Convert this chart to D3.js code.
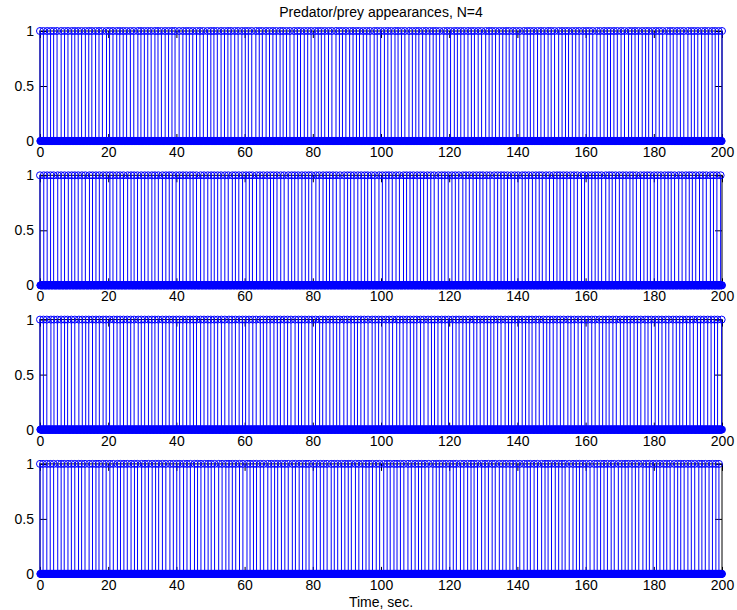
<!DOCTYPE html>
<html>
<head>
<meta charset="utf-8">
<script src="https://cdn.jsdelivr.net/npm/d3@7"></script>
<style>
  body { margin: 0; background: #fff; }
  text { font-family: "Liberation Sans", Arial, sans-serif; fill: #000; }
</style>
</head>
<body>
<svg id="chart"></svg>
<script>
const svgWidth = 737;
const svgHeight = 610;

const chartTitle = "Predator/prey appearances, N=4";
const xLabel = "Time, sec.";
const xTicks = [0, 20, 40, 60, 80, 100, 120, 140, 160, 180, 200];
const yTicks = [0, 0.5, 1];
const yTickLabels = ["0", "0.5", "1"];
const timeEnd = 200;
const sampleStep = 0.1; // time base of the 0/1 signal, seconds

// gaps between successive appearances, in tenths of a second
const gaps1 = [10,11,10,9,10,12,10,10,11,9,10,10,11,10,9,11,10,10,12,9,
  10,11,9,10,10,11,10,12,9,10,10,10,11,9,10,11,10,10,9,12,
  11,10,9,10,11,10,10,12,10,9,10,11,10,10,9,11,10,11,10,9,
  10,12,10,9,11,10,10,10,11,9,10,10,12,10,9,11,10,10,11,10,
  9,10,11,10,12,10,9,10,11,10,10,9,11,10,10,12,9,10,11,10,
  10,11,9,10,10,12,10,10,9,11,10,11,10,9,10,12,10,10,11,9,
  10,10,11,10,9,11,10,12,10,9,10,11,10,10,9,11,10,10,12,10,
  9,10,11,10,10,11,9,10,12,10,10,9,11,10,10,11,10,9,10,12,
  10,11,10,9,10,10,11,10,12,9,10,10,11,10,9,11,10,10,10,12,
  10,9,11,10,10,12,10,9,10,11,10,10,11,9,10,10,12,10,11,10];
const gaps2 = [11,10,10,9,12,10,10,11,10,9,10,11,10,12,9,10,10,11,10,10,
  9,11,10,10,12,10,9,10,11,10,10,11,9,10,12,10,10,9,11,10,
  10,10,11,9,10,12,10,11,10,9,10,10,11,10,12,9,10,11,10,10,
  9,12,10,10,11,10,9,10,11,10,12,10,9,10,11,10,10,9,12,10,
  11,10,9,10,10,11,12,10,9,10,11,10,10,9,11,10,12,10,10,9,
  10,11,10,12,9,10,10,11,10,9,11,10,10,12,10,9,10,11,10,10,
  12,9,10,11,10,10,9,11,10,12,10,10,9,10,11,10,10,12,9,10,
  11,10,10,9,11,10,12,10,9,10,10,11,10,10,12,9,11,10,10,9,
  10,12,10,9,10,11,10,10,11,9,10,12,10,10,9,11,10,10,11,10,
  9,10,12,10,11,10,9,10,11,10,10,12,9,10,11,10,10,9,11,10];
const gaps3 = [10,10,12,9,10,11,10,9,11,10,12,10,10,9,11,10,10,11,9,10,
  12,10,9,10,11,10,10,12,9,10,11,10,9,10,12,10,10,11,10,9,
  10,11,10,10,9,12,10,11,9,10,10,11,10,12,9,10,11,10,9,10,
  11,10,12,9,10,10,11,10,9,11,10,10,12,10,9,10,11,10,10,12,
  9,10,11,10,10,9,12,10,11,10,9,10,10,11,12,9,10,10,11,10,
  10,12,9,10,11,10,10,9,11,10,12,10,9,10,11,10,10,12,10,9,
  11,10,10,12,9,10,11,10,10,9,11,10,12,10,9,10,10,11,10,10,
  9,11,10,12,10,9,10,11,10,10,12,9,10,11,10,10,9,11,10,12,
  10,10,9,11,10,12,10,10,9,11,10,10,12,9,10,11,10,10,11,9,
  12,10,10,9,11,10,10,12,9,10,11,10,10,9,12,10,11,10,9,10];
const gaps4 = [9,11,10,10,12,10,9,11,10,10,11,9,10,12,10,10,9,11,10,11,
  10,12,9,10,10,11,10,9,12,10,10,11,10,9,11,10,12,10,10,9,
  11,10,10,12,9,10,11,10,9,10,12,10,11,9,10,10,11,10,12,9,
  10,9,11,10,12,10,10,9,11,10,10,12,9,11,10,10,9,12,10,11,
  10,10,12,9,10,11,10,10,9,12,10,11,10,9,10,11,10,12,10,9,
  11,9,10,10,12,10,11,10,9,10,11,12,10,9,10,10,11,10,9,12,
  10,11,10,9,10,12,10,10,11,9,12,10,10,11,9,10,10,12,10,9,
  11,10,12,10,9,10,11,10,10,9,12,11,10,9,10,10,11,12,9,10,
  10,10,11,9,12,10,10,9,11,10,10,12,10,9,11,10,10,11,9,10,
  12,10,9,10,11,10,10,12,9,10,11,10,10,9,12,10,10,11,10,9];

const panelGaps = [gaps1, gaps2, gaps3, gaps4];

const margin = { left: 40, right: 15 };
const panelTop0 = 31;
const panelPitch = 144.3;
const panelHeight = 110;
const plotWidth = svgWidth - margin.left - margin.right;
const tickLen = 7;
const stemColor = "#0000ff";

const svg = d3.select("#chart")
  .attr("width", svgWidth)
  .attr("height", svgHeight);

const x = d3.scaleLinear().domain([0, timeEnd]).range([0, plotWidth]);

// appearance times from the gaps
function appearanceTimes(gaps) {
  const out = [0];
  let t = 0;
  for (const g of gaps) {
    t += g / 10;
    if (t > timeEnd) break;
    out.push(Math.round(t * 10) / 10);
  }
  return out;
}

const sampleTimes = d3.range(0, timeEnd + 1e-9, sampleStep).map(t => Math.round(t * 10) / 10);

panelGaps.forEach((gaps, i) => {
  const top = panelTop0 + i * panelPitch;
  const g = svg.append("g").attr("transform", `translate(${margin.left},${top})`);
  const y = d3.scaleLinear().domain([0, 1]).range([panelHeight, 0]);

  const ones = appearanceTimes(gaps);
  const oneSet = new Set(ones);
  const zeros = sampleTimes.filter(t => !oneSet.has(t));

  // box
  g.append("rect")
    .attr("x", 0).attr("y", 0)
    .attr("width", plotWidth).attr("height", panelHeight)
    .attr("fill", "none").attr("stroke", "#000").attr("stroke-width", 1);

  // axes with inward ticks
  g.append("g")
    .attr("transform", `translate(0,${panelHeight})`)
    .call(d3.axisBottom(x).tickValues(xTicks).tickFormat(d3.format("d"))
      .tickSizeInner(-tickLen).tickSizeOuter(0).tickPadding(6));
  g.append("g")
    .call(d3.axisTop(x).tickValues(xTicks).tickFormat("")
      .tickSizeInner(-tickLen).tickSizeOuter(0));
  g.append("g")
    .call(d3.axisLeft(y).tickValues(yTicks).tickFormat((d, k) => yTickLabels[k])
      .tickSizeInner(-tickLen).tickSizeOuter(0).tickPadding(6));
  g.append("g")
    .attr("transform", `translate(${plotWidth},0)`)
    .call(d3.axisRight(y).tickValues(yTicks).tickFormat("")
      .tickSizeInner(-tickLen).tickSizeOuter(0));
  g.selectAll(".domain").remove();
  g.selectAll(".tick line").attr("stroke", "#000");
  g.selectAll(".tick text").attr("font-size", 14).attr("fill", "#000")
    .style("font-family", '"Liberation Sans", Arial, sans-serif');

  // stems
  g.selectAll(".stem")
    .data(ones)
    .enter().append("line")
    .attr("class", "stem")
    .attr("x1", d => x(d)).attr("x2", d => x(d))
    .attr("y1", y(0)).attr("y2", y(1))
    .attr("stroke", stemColor).attr("stroke-width", 1);

  // markers at 0
  g.selectAll(".m0")
    .data(zeros)
    .enter().append("circle")
    .attr("class", "m0")
    .attr("cx", d => x(d)).attr("cy", y(0)).attr("r", 3.5)
    .attr("fill", "none").attr("stroke", stemColor).attr("stroke-width", 1);

  // markers at 1
  g.selectAll(".m1")
    .data(ones)
    .enter().append("circle")
    .attr("class", "m1")
    .attr("cx", d => x(d)).attr("cy", y(1)).attr("r", 3.5)
    .attr("fill", "none").attr("stroke", stemColor).attr("stroke-width", 1);
});

svg.append("text")
  .attr("x", margin.left + plotWidth / 2)
  .attr("y", 17)
  .attr("text-anchor", "middle")
  .attr("font-size", 14)
  .text(chartTitle);

svg.append("text")
  .attr("x", margin.left + plotWidth / 2)
  .attr("y", 607)
  .attr("text-anchor", "middle")
  .attr("font-size", 14)
  .text(xLabel);
</script>
</body>
</html>
